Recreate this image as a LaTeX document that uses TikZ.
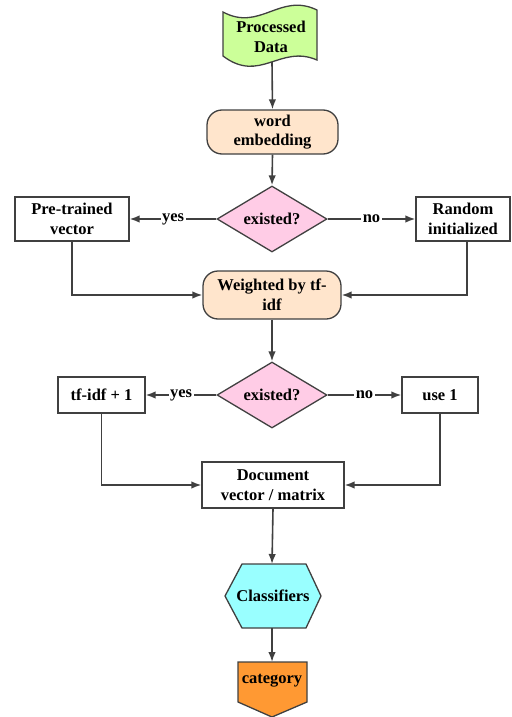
\documentclass[tikz,border=0pt]{standalone}
\usepackage{fontspec}
\setmainfont{Liberation Serif}[BoldFont={Liberation Serif Bold}]
\newfontfamily\lserif{Liberation Serif}[BoldFont={Liberation Serif Bold}]
\usetikzlibrary{shapes.geometric,arrows.meta}
\definecolor{edgec}{HTML}{404040}
\definecolor{greenf}{HTML}{CCFF99}
\definecolor{peachf}{HTML}{FFE5CC}
\definecolor{pinkf}{HTML}{FFCCE6}
\definecolor{cyanf}{HTML}{99FFFF}
\definecolor{orangef}{HTML}{FF9933}
\tikzset{
  every node/.style={font=\lserif\fontsize{16.5}{19.5}\selectfont\bfseries, align=center},
  shp/.style={draw=edgec, line width=1.3pt},
  boxn/.style={shp, rectangle, fill=white, inner sep=0pt},
  stad/.style={shp, rectangle, rounded corners=15pt, fill=peachf, inner sep=0pt},
  dia/.style={shp, diamond, fill=pinkf, aspect=1.67, inner sep=0pt, minimum width=110pt, minimum height=66pt},
  arr/.style={draw=edgec, line width=1.6pt, -{Latex[length=10pt,width=7.5pt]}},
  lab/.style={fill=white, inner sep=1.5pt, pos=0.5}
}
\begin{document}
\begin{tikzpicture}[x=1pt,y=-1pt]
\useasboundingbox (0,0) rectangle (511,717);
% Processed Data (tape)
\draw[shp, fill=greenf] (223,12) .. controls (260,32) and (280,-8) .. (317,10)
  -- (317,60) .. controls (280,44) and (260,84) .. (223,56) -- cycle;
\node (pd) at (271,37) {Processed\\Data};
\coordinate (pdb) at (272,62);
% word embedding
\node[stad, minimum width=131pt, minimum height=44pt] (we) at (272.5,132) {word\\embedding};
% diamond 1
\node[dia] (d1) at (272,219) {existed?};
\node[boxn, minimum width=114pt, minimum height=44pt] (pre) at (72,219) {Pre-trained\\vector};
\node[boxn, minimum width=94pt, minimum height=44pt] (rnd) at (463,219) {Random\\initialized};
% weighted
\node[stad, minimum width=138pt, minimum height=48pt] (wt) at (272,295) {Weighted by tf-\\idf};
% diamond 2
\node[dia] (d2) at (272,395) {existed?};
\node[boxn, minimum width=87pt, minimum height=36pt] (tf) at (101.5,395) {tf-idf + 1};
\node[boxn, minimum width=76pt, minimum height=36pt] (use) at (440,395) {use 1};
% document
\node[boxn, minimum width=142pt, minimum height=46pt] (doc) at (273,485) {Document\\vector / matrix};
% classifiers hexagon
\draw[shp, fill=cyanf] (225,596) -- (242,564) -- (306,564) -- (321,596) -- (306,628) -- (242,628) -- cycle;
\node (cls) at (273,596) {Classifiers};
\coordinate (clst) at (272,564);
\coordinate (clsb) at (272,628);
% category
\draw[shp, fill=orangef] (238,662) -- (307,662) -- (307,702) -- (272,717) -- (238,702) -- cycle;
\node (cat) at (272,681) {category};
\coordinate (catt) at (272,662);
% connectors
\draw[arr] (pdb) -- (we.north);
\draw[arr] (we.south) -- (d1.north);
\draw[arr] (d1.west) -- node[lab] {yes} (pre.east);
\draw[arr] (d1.east) -- node[lab] {no} (rnd.west);
\draw[arr] (pre.south) |- (wt.west);
\draw[arr] ([xshift=4pt]rnd.south) |- (wt.east);
\draw[arr] (wt.south) -- (d2.north);
\draw[arr] (d2.west) -- node[lab] {yes} (tf.east);
\draw[arr] (d2.east) -- node[lab] {no} (use.west);
\draw[arr] (tf.south) |- (doc.west);
\draw[arr] (use.south) |- (doc.east);
\draw[arr] (doc.south) -- (clst);
\draw[arr] (clsb) -- (catt);
\end{tikzpicture}
\end{document}
